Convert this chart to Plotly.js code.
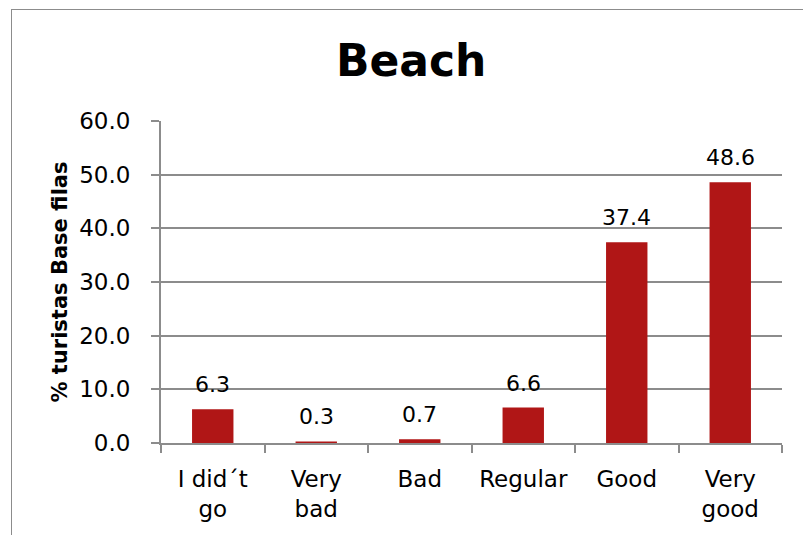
<!DOCTYPE html>
<html>
<head>
<meta charset="utf-8">
<script src="https://cdn.plot.ly/plotly-3.0.1.min.js"></script>
<style>
html,body{margin:0;padding:0;overflow:hidden;background:#fff;}
#chart{width:803px;height:535px;position:absolute;left:0;top:0;}
#frame{position:absolute;left:11px;top:9px;width:900px;height:700px;border:1px solid #8c8c8c;pointer-events:none;}
</style>
</head>
<body>
<div id="chart"></div>
<div id="frame"></div>
<script>
const categories = ["I did´t<br>go", "Very<br>bad", "Bad", "Regular", "Good", "Very<br>good"];
const values = [6.3, 0.3, 0.7, 6.6, 37.4, 48.6];
const valueLabels = ["6.3", "0.3", "0.7", "6.6", "37.4", "48.6"];
const yTicks = [0, 10, 20, 30, 40, 50, 60];
const yTickLabels = ["0.0", "10.0", "20.0", "30.0", "40.0", "50.0", "60.0"];

const FONT = "DejaVu Sans, sans-serif";
const barColor = "#B01616";
const gridColor = "#8c8c8c";

const trace = {
  type: "bar",
  x: categories,
  y: values,
  marker: {color: barColor},
  hoverinfo: "none"
};

const annotations = categories.map((c, i) => ({
  x: c, y: values[i], xref: "x", yref: "y",
  text: valueLabels[i], showarrow: false,
  yanchor: "bottom", yshift: 10,
  font: {family: FONT, size: 22, color: "#000"}
}));

const layout = {
  width: 803, height: 535,
  margin: {l: 161, r: 21, t: 121, b: 92},
  paper_bgcolor: "rgba(0,0,0,0)",
  plot_bgcolor: "rgba(0,0,0,0)",
  bargap: 0.6,
  showlegend: false,
  title: {
    text: "<b>Beach</b>",
    font: {family: FONT, size: 44, color: "#000"},
    x: 0.512, xref: "container", xanchor: "center",
    y: 0.886, yref: "container", yanchor: "middle"
  },
  xaxis: {
    type: "category",
    showline: true, linecolor: gridColor, linewidth: 2,
    ticks: "outside", tickson: "boundaries", ticklen: 8, tickcolor: gridColor, tickwidth: 2,
    ticklabelstandoff: 14,
    tickfont: {family: FONT, size: 23, color: "#000"},
    showgrid: false, zeroline: false
  },
  yaxis: {
    range: [0, 60],
    tickvals: yTicks, ticktext: yTickLabels,
    showline: true, linecolor: gridColor, linewidth: 2,
    ticks: "outside", ticklen: 8, tickcolor: gridColor, tickwidth: 2,
    ticklabelstandoff: 16,
    tickfont: {family: FONT, size: 23, color: "#000"},
    showgrid: true, gridcolor: gridColor, gridwidth: 2,
    zeroline: false,
    title: {
      text: "<b>% turistas Base filas</b>",
      font: {family: FONT, size: 21, color: "#000"},
      standoff: 6
    }
  },
  annotations: annotations
};

Plotly.newPlot("chart", [trace], layout, {staticPlot: true, displayModeBar: false});
</script>
</body>
</html>
